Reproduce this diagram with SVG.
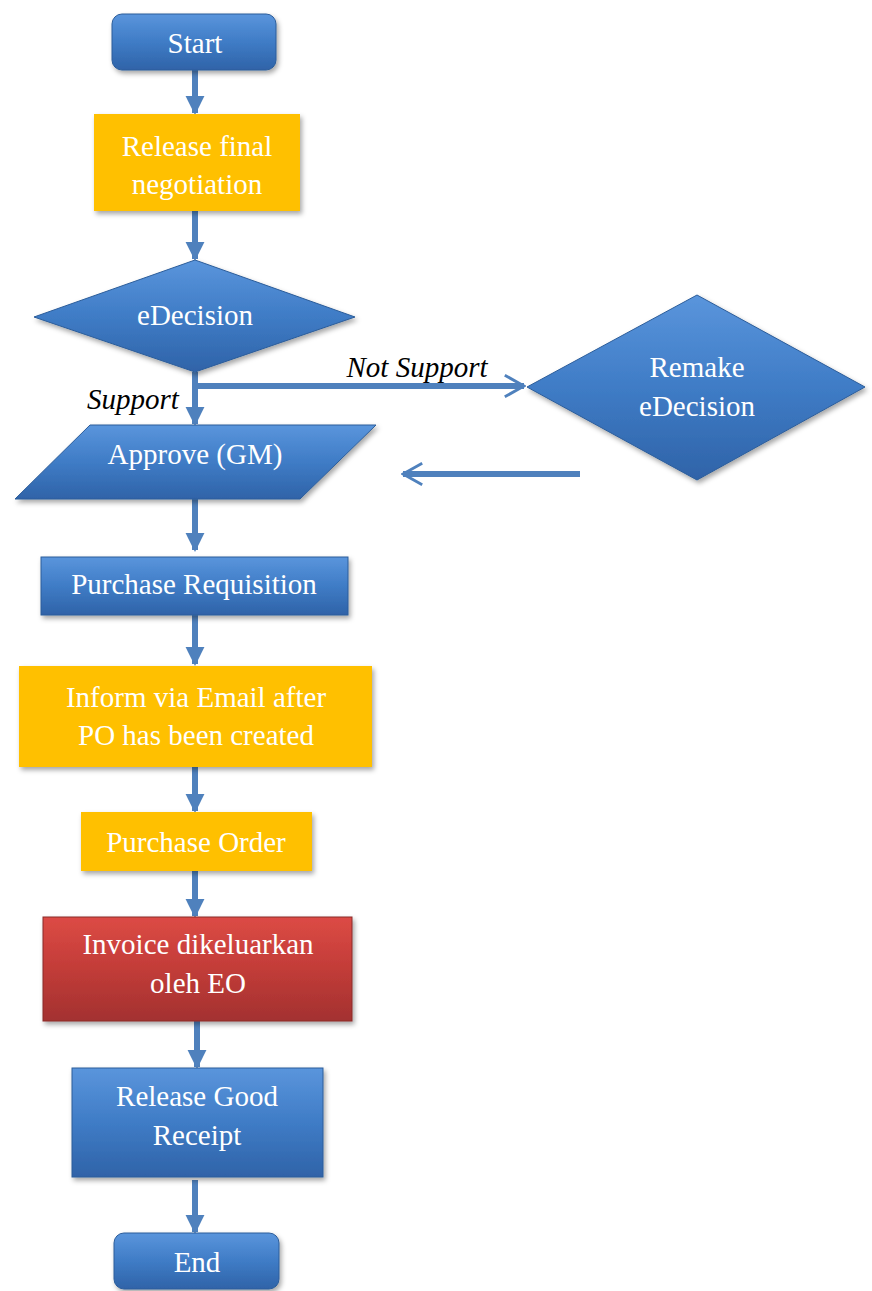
<svg xmlns="http://www.w3.org/2000/svg" width="872" height="1291" viewBox="0 0 872 1291">
<defs>
<linearGradient id="blue" x1="0" y1="0" x2="0" y2="1">
<stop offset="0" stop-color="#5a95dc"/>
<stop offset="0.5" stop-color="#3f7cc6"/>
<stop offset="1" stop-color="#2f63a8"/>
</linearGradient>
<linearGradient id="red" x1="0" y1="0" x2="0" y2="1">
<stop offset="0" stop-color="#dc4b45"/>
<stop offset="0.5" stop-color="#c23c38"/>
<stop offset="1" stop-color="#a33130"/>
</linearGradient>
<filter id="sh" x="-10%" y="-10%" width="125%" height="130%">
<feDropShadow dx="2" dy="3" stdDeviation="2.5" flood-color="#000" flood-opacity="0.35"/>
</filter>
<marker id="tri" viewBox="0 0 10 10" refX="9" refY="5" markerWidth="3.2" markerHeight="3.2" orient="auto" markerUnits="strokeWidth">
<path d="M0,0 L10,5 L0,10 z" fill="#4f81bd"/>
</marker>
<marker id="chev" viewBox="0 0 10 10" refX="9" refY="5" markerWidth="4" markerHeight="5" orient="auto" markerUnits="strokeWidth">
<path d="M1,0.5 L9,5 L1,9.5" fill="none" stroke="#4f81bd" stroke-width="1.2"/>
</marker>
</defs>
<style>
.b{fill:url(#blue);stroke:#2c5d9a;stroke-width:1;filter:url(#sh)}
.o{fill:#ffc000;filter:url(#sh)}
.r{fill:url(#red);stroke:#8a2a28;stroke-width:1;filter:url(#sh)}
.t{font-family:"Liberation Serif","Times New Roman",serif;font-size:29px;fill:#fff;text-anchor:middle}
.l{font-family:"Liberation Serif","Times New Roman",serif;font-size:29px;font-style:italic;fill:#000;text-anchor:middle}
.c{stroke:#4f81bd;stroke-width:6;fill:none}
</style>
<g id="connectors">
<line class="c" x1="195" y1="70" x2="195" y2="113" marker-end="url(#tri)"/>
<line class="c" x1="195" y1="211" x2="195" y2="259" marker-end="url(#tri)"/>
<line class="c" x1="195" y1="372" x2="195" y2="424" marker-end="url(#tri)"/>
<line class="c" x1="195" y1="386" x2="524" y2="386" stroke-width="5" marker-end="url(#chev)"/>
<line class="c" x1="580" y1="474" x2="403" y2="474" stroke-width="5" marker-end="url(#chev)"/>
<line class="c" x1="195" y1="499" x2="195" y2="550" marker-end="url(#tri)"/>
<line class="c" x1="195" y1="615" x2="195" y2="664" marker-end="url(#tri)"/>
<line class="c" x1="195" y1="767" x2="195" y2="811" marker-end="url(#tri)"/>
<line class="c" x1="195" y1="871" x2="195" y2="916" marker-end="url(#tri)"/>
<line class="c" x1="197" y1="1021" x2="197" y2="1067" marker-end="url(#tri)"/>
<line class="c" x1="195" y1="1180" x2="195" y2="1232" marker-end="url(#tri)"/>
<text class="l" x="133" y="409">Support</text>
<text class="l" x="417" y="377">Not Support</text>
</g>
<g id="start">
<rect class="b" x="112" y="14" width="164" height="56" rx="10"/>
<text class="t" x="195" y="53">Start</text>
</g>
<g id="release-final">
<rect class="o" x="94" y="114" width="206" height="97"/>
<text class="t" x="197" y="156">Release final</text>
<text class="t" x="197" y="194">negotiation</text>
</g>
<g id="edecision">
<polygon class="b" points="195,260 355,317 195,372 34,317"/>
<text class="t" x="195" y="325">eDecision</text>
</g>
<g id="remake">
<polygon class="b" points="697,295 865,387 697,480 527,387"/>
<text class="t" x="697" y="377">Remake</text>
<text class="t" x="697" y="416">eDecision</text>
</g>
<g id="approve">
<polygon class="b" points="90,425 376,425 300,499 15,499"/>
<text class="t" x="195" y="464">Approve (GM)</text>
</g>
<g id="pr">
<rect class="b" x="41" y="557" width="307" height="58"/>
<text class="t" x="194" y="594">Purchase Requisition</text>
</g>
<g id="inform">
<rect class="o" x="19" y="666" width="353" height="101"/>
<text class="t" x="196" y="707">Inform via Email after</text>
<text class="t" x="196" y="745">PO has been created</text>
</g>
<g id="po">
<rect class="o" x="81" y="812" width="231" height="59"/>
<text class="t" x="196" y="852">Purchase Order</text>
</g>
<g id="invoice">
<rect class="r" x="43" y="917" width="309" height="104"/>
<text class="t" x="198" y="954">Invoice dikeluarkan</text>
<text class="t" x="198" y="993">oleh EO</text>
</g>
<g id="gr">
<rect class="b" x="72" y="1068" width="251" height="109"/>
<text class="t" x="197" y="1106">Release Good</text>
<text class="t" x="197" y="1145">Receipt</text>
</g>
<g id="end">
<rect class="b" x="114" y="1233" width="165" height="56" rx="10"/>
<text class="t" x="197" y="1272">End</text>
</g>
</svg>
